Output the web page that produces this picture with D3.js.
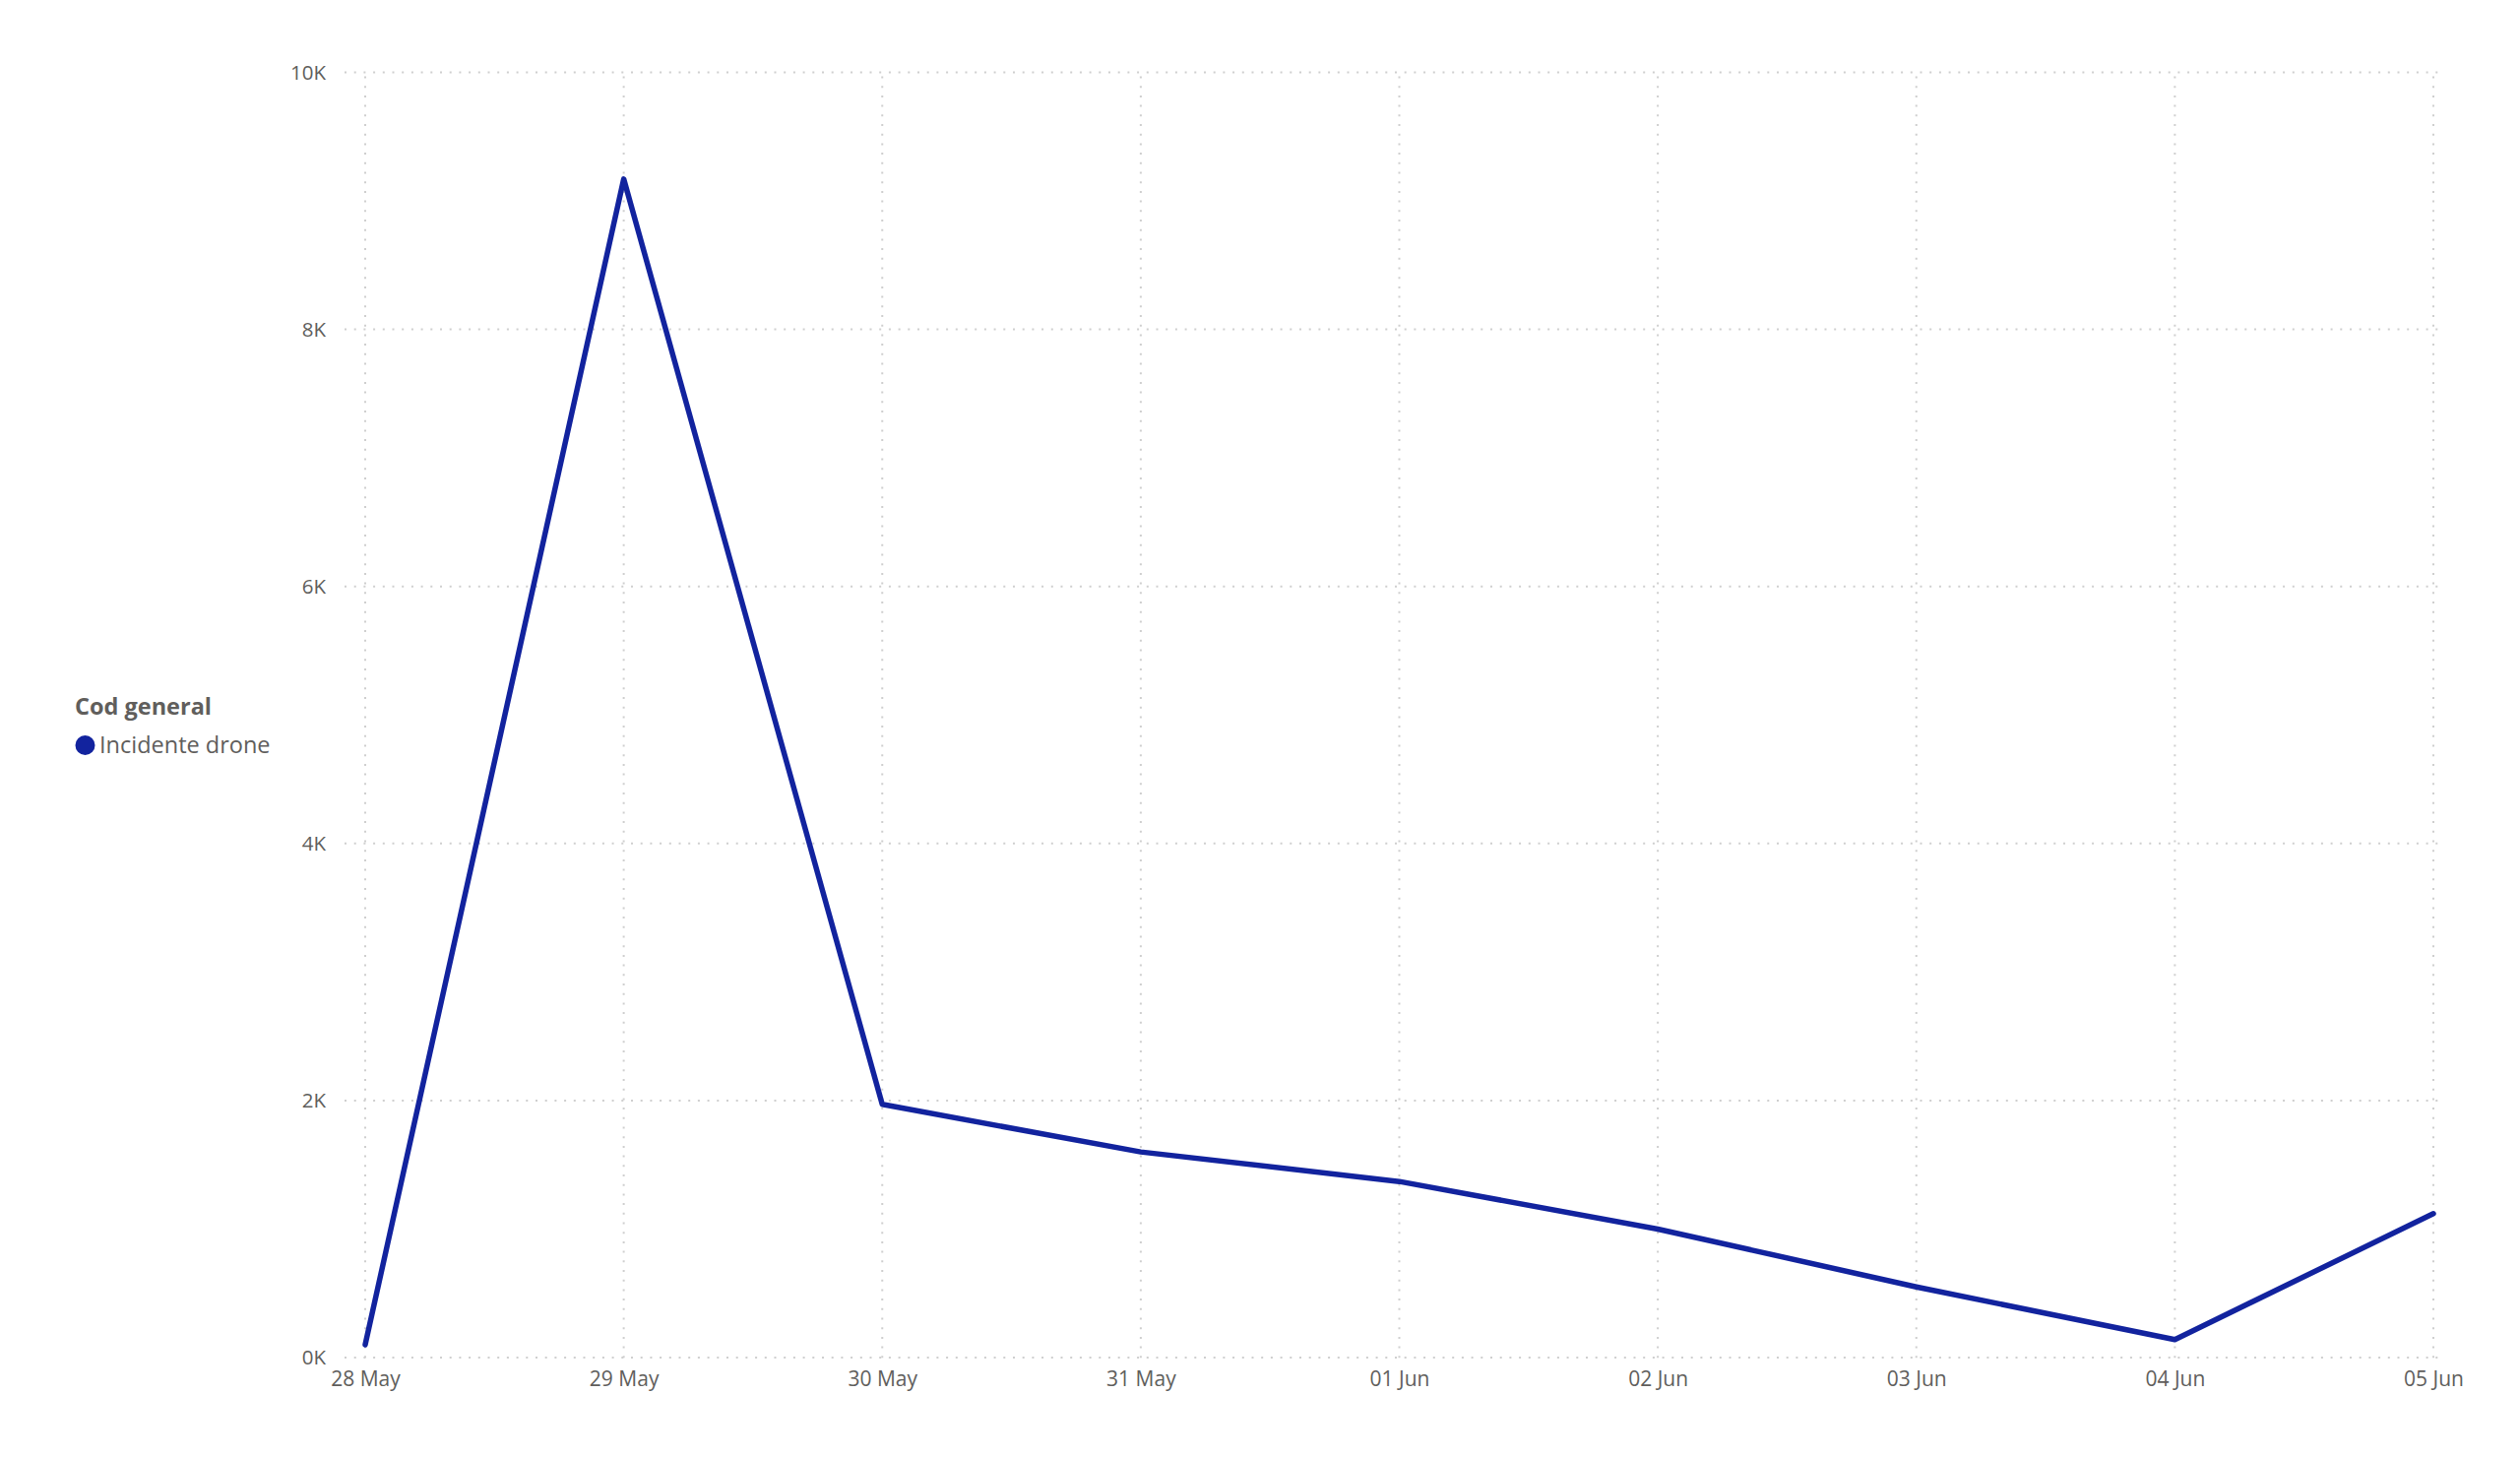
<!DOCTYPE html>
<html>
<head>
<meta charset="utf-8">
<script src="https://cdn.jsdelivr.net/npm/d3@7"></script>
<style>
  html, body { margin: 0; padding: 0; background: #ffffff; }
  svg { display: block; }
  text { font-family: "Segoe UI", "Open Sans", "Noto Sans", sans-serif; }
</style>
</head>
<body>
<svg id="chart" width="2560" height="1480"></svg>
<script>
const categories = ["28 May", "29 May", "30 May", "31 May", "01 Jun", "02 Jun", "03 Jun", "04 Jun", "05 Jun"];
const values = [100, 9170, 1970, 1600, 1370, 1000, 550, 140, 1120];
const yTicks = [0, 2000, 4000, 6000, 8000, 10000];
const yTickLabels = ["0K", "2K", "4K", "6K", "8K", "10K"];
const legendTitle = "Cod general";
const seriesName = "Incidente drone";

const plotLeft = 371, plotRight = 2472, plotTop = 73.5, plotBottom = 1379;
const lineColor = "#12239e";
const textColor = "#605e5c";
const gridColor = "#cfcfcf";
const fontFam = '"Segoe UI", "Open Sans", "Noto Sans", sans-serif';

const svg = d3.select("#chart");

const x = d3.scalePoint().domain(categories).range([plotLeft, plotRight]);
const y = d3.scaleLinear().domain([0, 10000]).range([plotBottom, plotTop]);

// horizontal gridlines
svg.append("g").selectAll("line").data(yTicks).join("line")
  .attr("x1", 350).attr("x2", 2480)
  .attr("y1", d => y(d)).attr("y2", d => y(d))
  .attr("stroke", gridColor).attr("stroke-width", 2)
  .attr("stroke-dasharray", "2,7.7");

// vertical gridlines
svg.append("g").selectAll("line").data(categories).join("line")
  .attr("x1", d => x(d)).attr("x2", d => x(d))
  .attr("y1", plotTop + 4).attr("y2", plotBottom + 4)
  .attr("stroke", gridColor).attr("stroke-width", 2)
  .attr("stroke-dasharray", "2,7.7");

// y axis labels
const yAxis = d3.axisLeft(y).tickValues(yTicks)
  .tickFormat((d, i) => yTickLabels[i]).tickSize(0).tickPadding(0);
const gy = svg.append("g").attr("transform", "translate(331,0)").call(yAxis);
gy.select(".domain").remove();
gy.selectAll("text").attr("fill", textColor).style("font-size", "20.5px")
  .style("font-family", fontFam);

// x axis labels
const xAxis = d3.axisBottom(x).tickSize(0).tickPadding(0);
const gx = svg.append("g").attr("transform", `translate(0,${plotBottom + 14})`).call(xAxis);
gx.select(".domain").remove();
gx.selectAll("text").attr("fill", textColor).style("font-size", "21px")
  .style("font-family", fontFam);

// line
const line = d3.line().x((d, i) => x(categories[i])).y(d => y(d));
svg.append("path").datum(values)
  .attr("d", line)
  .attr("fill", "none")
  .attr("stroke", lineColor)
  .attr("stroke-width", 5.5)
  .attr("stroke-linejoin", "round")
  .attr("stroke-linecap", "round");

// legend
svg.append("text").attr("x", 76).attr("y", 726)
  .attr("fill", textColor).style("font-size", "23.5px").style("font-weight", "bold")
  .text(legendTitle);
svg.append("circle").attr("cx", 86.5).attr("cy", 757).attr("r", 10).attr("fill", lineColor);
svg.append("text").attr("x", 101).attr("y", 765)
  .attr("fill", textColor).style("font-size", "23.5px")
  .text(seriesName);
</script>
</body>
</html>
